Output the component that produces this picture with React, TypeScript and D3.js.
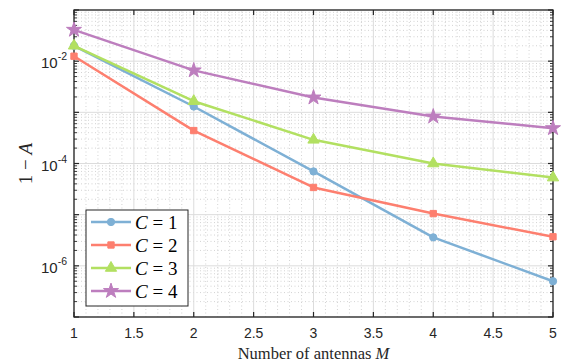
import React, { useEffect, useRef } from 'react'
import * as d3 from 'd3'

const antennas = [1, 2, 3, 4, 5]
const seriesNames = ['C = 1', 'C = 2', 'C = 3', 'C = 4']
const c1 = [2.0e-2, 1.3e-3, 7.0e-5, 3.6e-6, 5.0e-7]
const c2 = [1.25e-2, 4.4e-4, 3.4e-5, 1.05e-5, 3.7e-6]
const c3 = [2.0e-2, 1.65e-3, 2.9e-4, 1.0e-4, 5.3e-5]
const c4 = [4.1e-2, 6.6e-3, 1.95e-3, 8.3e-4, 4.9e-4]
const colors = ['#7eb0d5', '#fd7f6f', '#b2e061', '#bd7ebe']
const markers = [d3.symbolCircle, d3.symbolSquare, d3.symbolTriangle, d3.symbolStar]
const markerSizes = [42, 40, 55, 70]
const xTicks = [1, 1.5, 2, 2.5, 3, 3.5, 4, 4.5, 5]
const yMajor = [1e-7, 1e-6, 1e-5, 1e-4, 1e-3, 1e-2, 1e-1]
const yLabelled = [1e-6, 1e-4, 1e-2]

export default function App() {
  const ref = useRef<SVGSVGElement>(null)
  useEffect(() => {
    const width = 562, height = 364
    const m = { top: 10, right: 9, bottom: 47, left: 74 }
    const svg = d3.select(ref.current).attr('width', width).attr('height', height)
    svg.selectAll('*').remove()
    const x = d3.scaleLinear().domain([1, 5]).range([m.left, width - m.right])
    const y = d3.scaleLog().domain([1e-7, 1e-1]).range([height - m.bottom, m.top])
    const [x0, x1] = x.range(), [y0, y1] = y.range()

    const g = svg.append('g')
    // minor grid
    const xMinor = d3.range(10, 51).map(v => v / 10).filter(v => Math.round(v * 10) % 5 !== 0)
    const yMinor: number[] = []
    for (let e = -7; e < -1; e++) for (let k = 2; k <= 9; k++) yMinor.push(k * Math.pow(10, e))
    g.selectAll('.xm').data(xMinor).join('line')
      .attr('x1', d => x(d)).attr('x2', d => x(d)).attr('y1', y0).attr('y2', y1)
      .attr('stroke', '#c8c8c8').attr('stroke-width', 0.8).attr('stroke-dasharray', '1,2.5')
    g.selectAll('.ym').data(yMinor).join('line')
      .attr('y1', d => y(d)).attr('y2', d => y(d)).attr('x1', x0).attr('x2', x1)
      .attr('stroke', '#c8c8c8').attr('stroke-width', 0.8).attr('stroke-dasharray', '1,2.5')
    // major grid
    g.selectAll('.xg').data(xTicks).join('line')
      .attr('x1', d => x(d)).attr('x2', d => x(d)).attr('y1', y0).attr('y2', y1)
      .attr('stroke', '#dcdcdc').attr('stroke-width', 1)
    g.selectAll('.yg').data(yMajor).join('line')
      .attr('y1', d => y(d)).attr('y2', d => y(d)).attr('x1', x0).attr('x2', x1)
      .attr('stroke', '#dcdcdc').attr('stroke-width', 1)

    // box and ticks
    const axisColor = '#262626'
    g.append('rect').attr('x', x0).attr('y', y1).attr('width', x1 - x0).attr('height', y0 - y1)
      .attr('fill', 'none').attr('stroke', axisColor).attr('stroke-width', 1.3)
    xTicks.forEach(t => {
      g.append('line').attr('x1', x(t)).attr('x2', x(t)).attr('y1', y0).attr('y2', y0 - 5).attr('stroke', axisColor).attr('stroke-width', 1.2)
      g.append('line').attr('x1', x(t)).attr('x2', x(t)).attr('y1', y1).attr('y2', y1 + 5).attr('stroke', axisColor).attr('stroke-width', 1.2)
      g.append('text').attr('x', x(t)).attr('y', y0 + 21).attr('text-anchor', 'middle')
        .attr('font-family', 'Liberation Sans, Arial, sans-serif').attr('font-size', 14).attr('fill', axisColor)
        .text(String(t))
    })
    yMajor.forEach(t => {
      g.append('line').attr('y1', y(t)).attr('y2', y(t)).attr('x1', x0).attr('x2', x0 + 5).attr('stroke', axisColor).attr('stroke-width', 1.2)
      g.append('line').attr('y1', y(t)).attr('y2', y(t)).attr('x1', x1).attr('x2', x1 - 5).attr('stroke', axisColor).attr('stroke-width', 1.2)
    })
    yMinor.forEach(t => {
      g.append('line').attr('y1', y(t)).attr('y2', y(t)).attr('x1', x0).attr('x2', x0 + 3).attr('stroke', axisColor).attr('stroke-width', 0.9)
      g.append('line').attr('y1', y(t)).attr('y2', y(t)).attr('x1', x1).attr('x2', x1 - 3).attr('stroke', axisColor).attr('stroke-width', 0.9)
    })
    yLabelled.forEach(t => {
      const tx = g.append('text').attr('x', x0 - 7).attr('y', y(t) + 7).attr('text-anchor', 'end')
        .attr('font-family', 'Liberation Sans, Arial, sans-serif').attr('font-size', 15).attr('fill', axisColor)
      tx.append('tspan').text('10')
      tx.append('tspan').attr('dy', -8).attr('font-size', 10.5).text(String(Math.round(Math.log10(t))))
    })

    // axis labels
    const xl = svg.append('text').attr('x', (x0 + x1) / 2).attr('y', height - 5).attr('text-anchor', 'middle')
      .attr('font-family', 'Liberation Serif, Times New Roman, serif').attr('font-size', 16.5).attr('fill', axisColor)
    xl.append('tspan').text('Number of antennas ')
    xl.append('tspan').attr('font-style', 'italic').text('M')
    const yl = svg.append('text').attr('transform', `translate(32,${(y0 + y1) / 2}) rotate(-90)`).attr('text-anchor', 'middle')
      .attr('font-family', 'Liberation Serif, Times New Roman, serif').attr('font-size', 19).attr('fill', axisColor)
    yl.append('tspan').text('1 \u2212 ')
    yl.append('tspan').attr('font-style', 'italic').text('A')

    // series
    const all = [c1, c2, c3, c4]
    const line = d3.line<number>().x((_, i) => x(antennas[i])).y(d => y(d))
    all.forEach((vals, s) => {
      const sg = svg.append('g')
      sg.append('path').datum(vals).attr('d', line).attr('fill', 'none')
        .attr('stroke', colors[s]).attr('stroke-width', 2.5).attr('stroke-linejoin', 'round')
      sg.selectAll('path.mk').data(vals).join('path').attr('class', 'mk')
        .attr('transform', (d, i) => `translate(${x(antennas[i])},${y(d)})`)
        .attr('d', d3.symbol(markers[s], markerSizes[s])()).attr('fill', colors[s]).attr('stroke', colors[s])
    })

    // legend
    const lg = svg.append('g').attr('transform', 'translate(86,210)')
    lg.append('rect').attr('width', 102).attr('height', 96).attr('fill', '#fff').attr('stroke', axisColor).attr('stroke-width', 1)
    seriesNames.forEach((name, s) => {
      const yy = 12 + s * 23
      lg.append('line').attr('x1', 5).attr('x2', 45).attr('y1', yy).attr('y2', yy).attr('stroke', colors[s]).attr('stroke-width', 2.5)
      lg.append('path').attr('transform', `translate(25,${yy})`).attr('d', d3.symbol(markers[s], markerSizes[s])())
        .attr('fill', colors[s]).attr('stroke', colors[s])
      const t = lg.append('text').attr('x', 49).attr('y', yy + 6.5)
        .attr('font-family', 'Liberation Serif, Times New Roman, serif').attr('font-size', 19).attr('fill', '#000')
      const [a, b] = name.split(' = ')
      t.append('tspan').attr('font-style', 'italic').text(a)
      t.append('tspan').text(' = ' + b)
    })
  }, [])
  return <svg ref={ref} style={{ position: 'absolute', left: 0, top: 0 }} />
}
